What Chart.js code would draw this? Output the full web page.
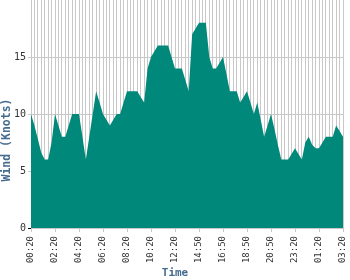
<!DOCTYPE html>
<html lang="en">
<head>
  <meta charset="UTF-8" />
  <title>Wind</title>
  <script src="https://cdn.jsdelivr.net/npm/chart.js"></script>
  <style>
    body { margin: 0; background: #fff; }
    .wrap { width: 350px; height: 280px; }
  </style>
</head>
<body>
  <div class="wrap"><canvas id="windChart"></canvas></div>
  <script>
    // tick labels shown every 7 readings
    const timeLabels = ['00:20', '02:20', '04:20', '06:20', '08:20', '10:20', '12:20',
                        '14:50', '16:50', '18:50', '20:50', '23:20', '01:20', '03:20'];
    const labelEvery = 7;

    // wind speed in knots, one per reading
    const windKnots = [
      10, 9, 7.8, 6.6, 6, 6, 7.5, 10, 9, 8,
      8, 9, 10, 10, 10, 8, 6, 8, 10, 12,
      11, 10, 9.5, 9, 9.5, 10, 10, 11, 12, 12,
      12, 12, 11.5, 11, 14, 15, 15.5, 16, 16, 16,
      16, 15, 14, 14, 14, 13, 12, 17, 17.5, 18,
      18, 18, 15, 14, 14, 14.5, 15, 13.5, 12, 12,
      12, 11, 11.5, 12, 11, 10, 11, 9.5, 8, 9,
      10, 8.7, 7.3, 6, 6, 6, 6.5, 7, 6.5, 6,
      7.5, 8, 7.3, 7, 7, 7.5, 8, 8, 8, 9,
      8.5, 8
    ];
    const yTicks = [0, 5, 10, 15];

    const labels = windKnots.map((v, i) => i % labelEvery === 0 ? timeLabels[i / labelEvery] : '');

    const mono = 'DejaVu Sans Mono';
    const gridGray = '#c8c8c8';
    const titleBlue = '#456b8f';

    // axis titles centred on the canvas, like the original
    const axisTitles = {
      id: 'axisTitles',
      afterDraw(chart) {
        const ctx = chart.ctx;
        ctx.save();
        ctx.fillStyle = titleBlue;
        ctx.textAlign = 'center';
        ctx.textBaseline = 'middle';
        ctx.font = 'bold 11px "' + mono + '"';
        ctx.fillText('Time', chart.width / 2, 273);
        ctx.translate(7, chart.height / 2);
        ctx.rotate(-Math.PI / 2);
        ctx.font = 'bold 11.5px "' + mono + '"';
        ctx.fillText('Wind (Knots)', 0, 0);
        ctx.restore();
      }
    };

    new Chart(document.getElementById('windChart'), {
      type: 'line',
      data: {
        labels: labels,
        datasets: [{
          label: 'Wind',
          data: windKnots,
          fill: 'origin',
          backgroundColor: '#00897b',
          borderWidth: 0,
          pointRadius: 0,
          tension: 0
        }]
      },
      plugins: [axisTitles],
      options: {
        responsive: true,
        maintainAspectRatio: false,
        animation: false,
        layout: { padding: { top: 0, right: 7, left: 0, bottom: 0 } },
        plugins: { legend: { display: false }, tooltip: { enabled: false } },
        scales: {
          x: {
            afterFit: s => { s.height = 52; s.paddingLeft = 0; s.paddingRight = 0; },
            border: { display: false },
            grid: {
              color: gridGray,
              tickLength: 4,
              tickColor: c => c.index % labelEvery === 0 ? gridGray : 'rgba(0,0,0,0)'
            },
            ticks: {
              autoSkip: false,
              maxRotation: 90,
              minRotation: 90,
              padding: 4,
              color: '#333',
              font: { family: mono, size: 9 },
              callback: (v, i) => labels[i]
            }
          },
          y: {
            min: 0,
            max: 20,
            afterFit: s => { s.width = 31; s.paddingTop = 0; s.paddingBottom = 0; },
            afterBuildTicks: s => { s.ticks = yTicks.map(v => ({ value: v })); },
            border: { display: false },
            grid: {
              color: gridGray,
              tickLength: 3,
              tickColor: c => c.tick && c.tick.value === 0 ? '#000' : gridGray
            },
            ticks: {
              padding: 2,
              color: '#333',
              font: { family: mono, size: 10 }
            }
          }
        }
      }
    });
  </script>
</body>
</html>
